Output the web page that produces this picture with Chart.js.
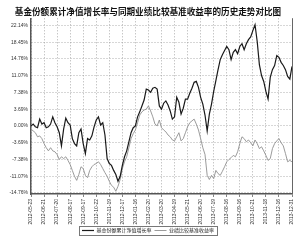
<!DOCTYPE html>
<html>
<head>
<meta charset="utf-8">
<script src="https://cdn.jsdelivr.net/npm/chart.js"></script>
<style>
  body { margin: 0; background: #fff; }
  canvas { display: block; }
</style>
</head>
<body>
<canvas id="navChart" width="300" height="245"></canvas>
<script>
// x-axis date labels (every 6th point)
const dateLabels = ['2012-05-23', '2012-06-21', '2012-07-20', '2012-08-17', '2012-09-17', '2012-10-22',
  '2012-11-19', '2012-12-17', '2013-01-16', '2013-02-20', '2013-03-20', '2013-04-19', '2013-05-21',
  '2013-06-20', '2013-07-19', '2013-08-16', '2013-09-16', '2013-10-21', '2013-11-18', '2013-12-16', '2013-12-31'];

const yTicks = [-14.76, -11.07, -7.38, -3.69, 0, 3.69, 7.38, 11.07, 14.76, 18.45, 22.14];
const yTickLabels = ['-14.76%', '-11.07%', '-7.38%', '-3.69%', '0.00%', '3.69%', '7.38%', '11.07%', '14.76%', '18.45%', '22.14%'];

// 基金份额累计净值增长率 (%)
const fundValues = [
  0.0, 0.4, -0.2, -0.4, 1.5, 0.4, 0.7, -0.4, -0.2, 0.4,
  2.0, 0.7, -0.2, -1.5, -4.4, -0.7, 1.7, 0.7, 0.2, -2.8,
  -3.9, -4.4, -1.5, -0.7, -3.9, -6.1, -2.8, -3.1, -2.2, -0.2,
  1.3, 2.0, 0.2, 0.7, -2.0, -7.2, -8.3, -8.7, -9.8, -10.7,
  -12.2, -11.1, -8.7, -6.8, -5.5, -3.5, -1.5, -0.4, 0.0, 2.0,
  3.1, 4.4, 5.7, 8.1, 7.9, 7.4, 8.3, 8.5, 8.1, 4.4,
  3.7, 5.0, 5.5, 4.6, 3.3, 1.5, 2.0, 6.3, 5.2, 2.6,
  3.9, 5.9, 5.9, 7.2, 8.3, 9.6, 9.8, 8.5, 6.3, 4.8,
  2.4, -1.1, 2.6, 4.8, 7.6, 10.0, 12.4, 14.6, 15.7, 16.6,
  17.5, 16.8, 14.6, 16.2, 16.8, 15.9, 17.5, 18.1, 16.8, 18.1,
  19.0, 19.6, 21.0, 22.3, 18.6, 13.5, 11.1, 9.8, 7.6, 5.9,
  10.7, 12.4, 13.3, 15.5, 15.1, 14.0, 13.3, 12.4, 10.9, 10.3,
  13.1
];

// 业绩比较基准收益率 (%)
const benchValues = [
  -0.7, -1.1, -1.5, -2.4, -2.2, -2.8, -3.9, -4.8, -5.5, -4.8,
  -5.5, -5.7, -6.3, -7.4, -6.8, -7.2, -6.8, -7.6, -8.5, -9.8,
  -11.1, -12.0, -10.7, -9.0, -9.4, -10.9, -11.4, -9.8, -9.0, -8.5,
  -8.3, -7.9, -8.5, -9.4, -10.3, -11.1, -12.2, -13.1, -13.5, -14.4,
  -13.3, -11.8, -9.4, -7.9, -6.8, -4.8, -2.8, -1.7, -0.9, 0.7,
  2.4, 3.1, 3.5, 3.7, 4.4, 3.3, 2.0, 0.4, 0.0, 1.3,
  -0.4, -0.9, -1.3, -2.0, -2.4, -3.1, -3.3, -2.4, -1.5, -3.3,
  -2.8, -1.5, -0.2, 0.7, 1.1, 1.5, 0.4, -0.9, -2.8, -4.8,
  -6.3, -10.9, -11.8, -10.9, -11.6, -9.8, -10.5, -10.9, -10.0, -9.0,
  -7.9, -7.4, -7.0, -6.5, -6.8, -5.7, -3.9, -2.4, -2.8, -3.5,
  -3.1, -3.7, -4.4, -3.1, -3.9, -5.0, -4.6, -5.5, -6.5, -7.6,
  -7.2, -5.0, -3.9, -3.3, -2.8, -3.7, -4.4, -6.1, -7.9, -7.6,
  -7.9
];

const toPoints = arr => arr.map((v, i) => ({ x: i, y: v }));

// right edge of the plot + box round the legend
const framePlugin = {
  id: 'frame',
  afterDraw(chart) {
    const ctx = chart.ctx;
    const a = chart.chartArea;
    ctx.save();
    ctx.strokeStyle = '#666';
    ctx.lineWidth = 1;
    ctx.beginPath();
    ctx.moveTo(a.right + 0.5, a.top);
    ctx.lineTo(a.right + 0.5, a.bottom);
    ctx.stroke();
    const boxes = chart.legend.legendHitBoxes;
    if (boxes && boxes.length) {
      const l = Math.min(...boxes.map(b => b.left)) - 3;
      const r = Math.max(...boxes.map(b => b.left + b.width)) + 3;
      const t = Math.min(...boxes.map(b => b.top)) - 2;
      const btm = Math.max(...boxes.map(b => b.top + b.height)) + 2;
      ctx.strokeStyle = '#777';
      ctx.strokeRect(Math.round(l) + 0.5, Math.round(t) + 0.5, Math.round(r - l), Math.round(btm - t));
    }
    ctx.restore();
  }
};

const ctx = document.getElementById('navChart').getContext('2d');
new Chart(ctx, {
  type: 'line',
  data: {
    datasets: [{
      label: '基金份额累计净值增长率',
      data: toPoints(fundValues),
      borderColor: '#1a1a1a',
      backgroundColor: '#1a1a1a',
      borderWidth: 1.2,
      pointRadius: 0,
      tension: 0
    }, {
      label: '业绩比较基准收益率',
      data: toPoints(benchValues),
      borderColor: '#909090',
      backgroundColor: '#909090',
      borderWidth: 0.9,
      pointRadius: 0,
      tension: 0
    }]
  },
  options: {
    responsive: false,
    animation: false,
    devicePixelRatio: 1,
    layout: { padding: { left: 2, right: 6, top: 0, bottom: 2 } },
    plugins: {
      title: {
        display: true,
        text: '基金份额累计净值增长率与同期业绩比较基准收益率的历史走势对比图',
        color: '#111',
        font: { family: '"Noto Sans CJK SC"', size: 8.6, weight: 'bold' },
        padding: { top: 7, bottom: 1 }
      },
      legend: {
        position: 'bottom',
        labels: {
          usePointStyle: true,
          pointStyle: 'line',
          pointStyleWidth: 12,
          boxHeight: 5,
          padding: 3,
          color: '#222',
          font: { family: '"Noto Sans CJK SC"', size: 5 }
        }
      },
      tooltip: { enabled: false }
    },
    scales: {
      x: {
        type: 'linear',
        min: 0,
        max: 120,
        afterFit(scale) { scale.height = 31; },
        ticks: {
          stepSize: 6,
          autoSkip: false,
          maxRotation: 90,
          minRotation: 90,
          padding: 2,
          color: '#333',
          font: { family: 'Liberation Sans', size: 5 },
          callback: v => dateLabels[v / 6]
        },
        grid: {
          color: '#999',
          lineWidth: 0.8,
          tickLength: 3,
          tickColor: '#666'
        },
        border: { color: '#555', width: 1.5, dash: [1, 2] }
      },
      y: {
        min: -15,
        max: 23.7,
        afterFit(scale) { scale.width = 29; },
        afterBuildTicks(scale) {
          scale.ticks = yTicks.map(v => ({ value: v }));
        },
        ticks: {
          padding: 3,
          color: '#333',
          font: { family: 'Liberation Sans', size: 5 },
          callback: v => yTickLabels[yTicks.indexOf(v)]
        },
        grid: {
          color: '#999',
          lineWidth: 0.8,
          drawTicks: false
        },
        border: { color: '#555', width: 1.5, dash: [1, 2] }
      }
    }
  },
  plugins: [framePlugin]
});
</script>
</body>
</html>
